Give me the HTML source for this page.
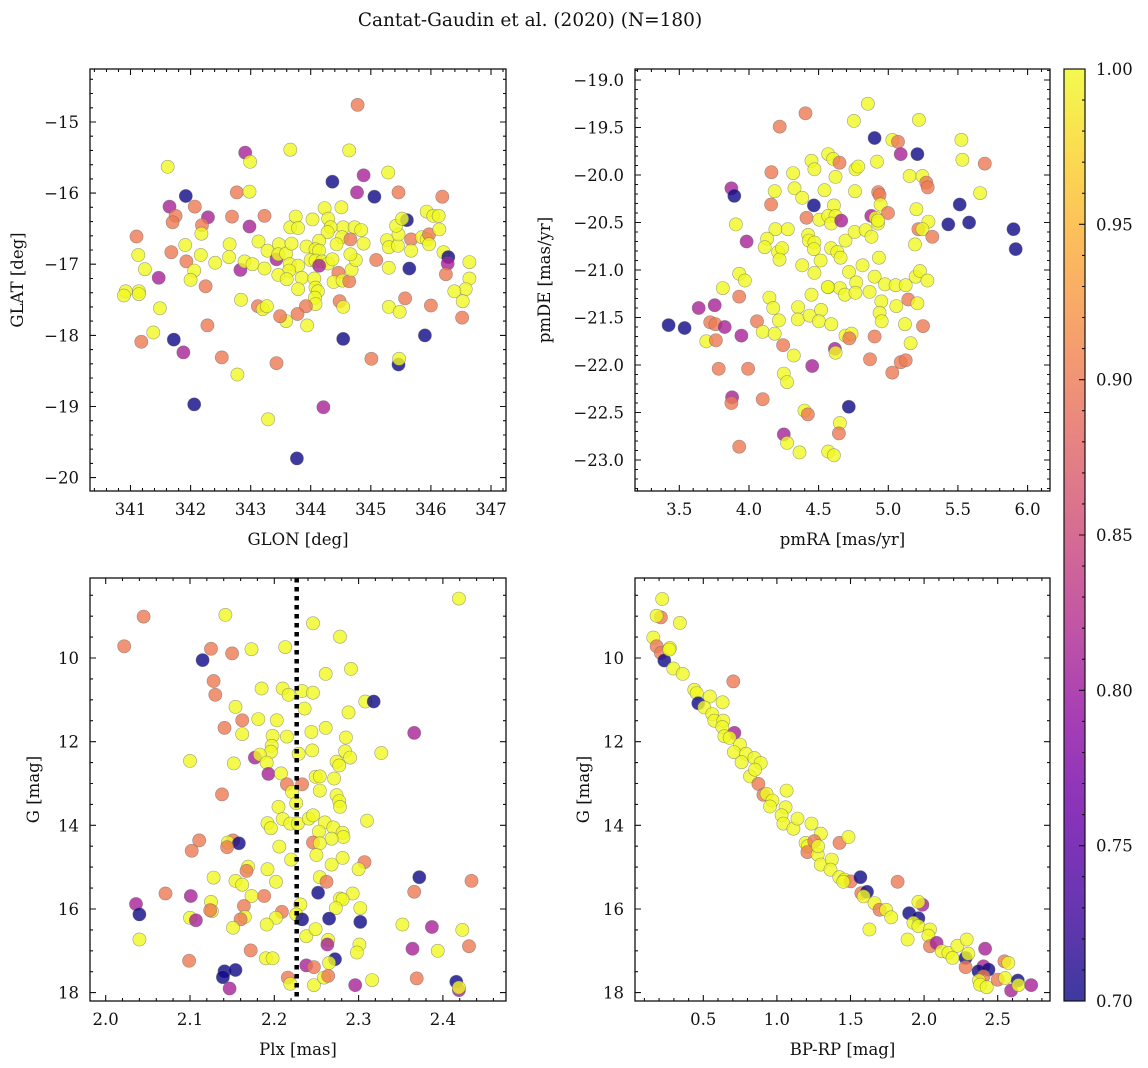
<!DOCTYPE html>
<html><head><meta charset="utf-8"><title>Cantat-Gaudin et al. (2020)</title>
<style>
html,body{margin:0;padding:0;background:#fff;}
svg{display:block;font-family:"DejaVu Serif","Liberation Serif",serif;}
</style></head>
<body>
<svg id="fig" width="1148" height="1068" viewBox="0 0 1148 1068" xmlns="http://www.w3.org/2000/svg">
<text x="530" y="26" font-size="18.5" text-anchor="middle" fill="#111">Cantat-Gaudin et al. (2020) (N=180)</text>
</svg>
<script>
// ---------- data: [x, y, membership probability] ----------
const glonGlat = [
[344.78,-14.76,.9],[343.66,-15.39,1],[344.64,-15.40,1],[342.91,-15.43,.81],[342.99,-15.56,1],[341.62,-15.63,1],[345.29,-15.71,1],[344.88,-15.75,.81],[344.36,-15.84,.7],[341.92,-16.04,.7],
[342.77,-15.99,.9],[342.98,-15.98,1],[344.77,-15.99,.81],[345.06,-16.05,.7],[345.46,-15.99,.9],[346.19,-16.05,.9],[341.65,-16.19,.81],[342.07,-16.19,.9],[341.75,-16.32,.9],[341.70,-16.41,.9],
[342.29,-16.34,.81],[342.19,-16.45,.9],[342.18,-16.57,1],[342.69,-16.33,.9],[343.23,-16.32,.9],[342.98,-16.47,.81],[341.10,-16.61,.9],[341.91,-16.73,1],[342.65,-16.72,1],[343.13,-16.68,1],
[341.13,-16.87,1],[341.68,-16.83,.9],[342.17,-16.87,1],[342.64,-16.90,1],[341.93,-16.96,.9],[342.41,-16.98,1],[341.24,-17.07,1],[341.47,-17.19,.81],[342.06,-17.09,1],[342.00,-17.22,1],
[342.25,-17.31,.9],[340.92,-17.38,1],[340.89,-17.44,1],[341.14,-17.38,1],[341.14,-17.42,1],[341.49,-17.62,1],[341.38,-17.96,1],[341.18,-18.09,.9],[341.72,-18.06,.7],[341.88,-18.24,.81],
[342.28,-17.86,.9],[342.52,-18.31,.9],[342.78,-18.55,1],[343.43,-18.39,.9],[342.06,-18.97,.7],[343.29,-19.18,1],[344.21,-19.01,.81],[343.77,-19.73,.7],[342.84,-17.50,1],[342.83,-17.08,.81],
[342.90,-16.96,1],[343.03,-17.00,1],[343.23,-17.06,1],[343.28,-16.81,1],[343.43,-16.93,.81],[343.47,-16.72,1],[343.46,-16.86,1],[343.59,-16.85,1],[343.68,-16.71,1],[343.66,-16.48,1],
[343.75,-16.33,1],[343.79,-16.49,1],[344.03,-16.37,1],[344.23,-16.21,1],[344.29,-16.36,1],[344.51,-16.20,1],[344.54,-16.48,1],[344.73,-16.48,1],[344.84,-16.52,1],[344.33,-16.48,1],
[344.28,-16.55,1],[344.52,-16.62,1],[344.66,-16.65,.9],[344.43,-16.72,1],[344.88,-16.71,1],[343.93,-16.75,1],[344.14,-16.67,1],[344.08,-16.79,1],[344.14,-16.81,1],[344.00,-16.94,1],
[344.08,-16.95,1],[344.19,-16.96,1],[344.29,-16.99,1],[344.36,-16.93,1],[344.14,-17.02,.81],[343.65,-17.00,1],[343.79,-17.02,1],[343.64,-17.09,1],[343.46,-17.15,1],[343.60,-17.21,1],
[343.85,-17.19,1],[344.06,-17.20,1],[344.08,-17.33,1],[344.12,-17.38,1],[343.79,-17.35,1],[344.07,-17.47,1],[344.08,-17.56,1],[343.92,-17.59,.9],[343.78,-17.70,.9],[343.94,-17.86,1],
[343.59,-17.80,1],[343.49,-17.73,.9],[343.12,-17.59,.9],[343.20,-17.63,1],[343.27,-17.59,1],[344.46,-17.12,.9],[344.38,-17.25,1],[344.53,-17.23,1],[344.64,-17.24,.9],[344.68,-17.08,1],
[344.75,-16.94,1],[344.66,-16.86,1],[344.48,-17.52,.9],[344.54,-17.60,1],[344.54,-18.05,.7],[345.09,-16.94,.9],[345.30,-17.05,1],[345.27,-16.66,1],[345.30,-16.76,1],[345.45,-16.74,1],
[345.46,-16.58,1],[345.42,-16.46,1],[345.60,-16.38,.7],[345.52,-16.36,1],[345.67,-16.65,.9],[345.67,-16.81,1],[345.64,-17.06,.7],[345.57,-17.48,.9],[345.30,-17.60,1],[345.48,-17.67,1],
[345.46,-18.41,.7],[345.47,-18.33,1],[345.01,-18.33,.9],[345.90,-18.00,.7],[346.00,-17.58,.9],[345.85,-16.62,1],[345.93,-16.65,1],[345.97,-16.58,.9],[345.97,-16.72,1],[345.93,-16.26,1],
[346.04,-16.32,1],[346.13,-16.32,1],[346.14,-16.51,1],[346.21,-16.83,1],[346.29,-16.90,.7],[346.28,-16.99,.81],[346.25,-17.14,.9],[346.64,-16.97,1],[346.64,-17.20,1],[346.58,-17.35,1],
[346.39,-17.38,1],[346.53,-17.52,1],[346.52,-17.75,.9]
];
const pmraPmde = [
[4.854,-19.25,1],[4.406,-19.35,.9],[4.753,-19.43,1],[5.220,-19.42,1],[4.221,-19.49,.9],[4.902,-19.61,.7],[5.029,-19.63,1],[5.070,-19.65,.9],[5.209,-19.78,.7],[5.089,-19.78,.81],
[5.525,-19.63,1],[5.532,-19.84,1],[5.693,-19.88,.9],[4.569,-19.78,1],[4.605,-19.83,1],[4.650,-19.87,.9],[4.449,-19.85,1],[4.470,-19.94,1],[4.765,-19.94,1],[4.784,-19.91,1],
[4.919,-19.86,1],[4.317,-19.98,1],[4.161,-19.97,.9],[4.621,-20.02,1],[5.153,-20.01,1],[5.245,-20.01,1],[5.273,-20.08,.9],[5.283,-20.13,.9],[3.874,-20.14,.81],[3.895,-20.22,.7],
[4.185,-20.17,1],[4.327,-20.14,1],[4.382,-20.24,1],[4.542,-20.16,1],[4.761,-20.17,1],[4.928,-20.18,.9],[4.938,-20.21,.9],[4.945,-20.31,1],[5.659,-20.19,1],[4.159,-20.31,.9],
[4.466,-20.32,.7],[4.610,-20.32,1],[5.513,-20.31,.7],[5.431,-20.52,.7],[5.580,-20.50,.7],[5.899,-20.57,.7],[5.915,-20.78,.7],[4.413,-20.45,.9],[4.506,-20.47,1],[4.569,-20.43,1],
[4.621,-20.43,1],[4.590,-20.51,1],[4.662,-20.48,.81],[4.878,-20.43,.81],[4.909,-20.45,1],[4.926,-20.51,1],[4.998,-20.40,.9],[5.202,-20.36,1],[5.288,-20.49,1],[5.216,-20.57,.9],
[5.245,-20.57,1],[5.316,-20.65,.9],[3.906,-20.52,1],[3.983,-20.70,.81],[4.190,-20.57,1],[4.279,-20.57,1],[4.130,-20.67,1],[4.113,-20.76,1],[4.209,-20.81,1],[4.238,-20.77,1],
[4.219,-20.89,1],[4.425,-20.63,1],[4.430,-20.69,1],[4.470,-20.71,1],[4.466,-20.78,1],[4.514,-20.90,1],[4.382,-20.95,1],[4.470,-21.03,1],[4.590,-20.77,1],[4.634,-20.81,1],
[4.658,-20.87,1],[4.693,-20.69,1],[4.758,-20.60,1],[4.837,-20.58,1],[4.880,-20.65,1],[4.926,-20.48,1],[4.933,-20.87,1],[4.815,-20.95,1],[4.718,-21.02,1],[4.770,-21.13,1],
[4.569,-21.18,1],[4.653,-21.19,1],[4.689,-21.26,1],[4.765,-21.24,1],[4.866,-21.23,1],[4.902,-21.07,1],[4.976,-21.15,1],[5.053,-21.16,1],[5.125,-21.16,1],[5.197,-21.07,1],
[5.228,-21.01,1],[5.281,-21.11,1],[5.192,-20.73,1],[5.144,-21.31,.9],[5.209,-21.35,1],[5.058,-21.38,1],[4.950,-21.33,1],[4.938,-21.45,1],[4.953,-21.54,1],[5.120,-21.57,1],
[5.249,-21.59,.9],[5.160,-21.77,1],[4.902,-21.70,.9],[4.869,-21.94,.9],[5.029,-22.08,.9],[5.089,-21.97,.9],[5.125,-21.95,.9],[3.930,-21.04,1],[3.971,-21.11,1],[3.812,-21.19,1],
[3.930,-21.28,.9],[4.147,-21.29,1],[4.174,-21.40,1],[4.215,-21.53,1],[4.058,-21.54,.9],[4.099,-21.65,1],[4.185,-21.67,1],[4.245,-21.79,.9],[4.322,-21.90,1],[4.353,-21.39,1],
[4.351,-21.52,1],[4.435,-21.48,1],[4.518,-21.42,1],[4.502,-21.54,1],[4.591,-21.57,1],[4.449,-21.26,1],[4.566,-21.18,1],[3.639,-21.40,.81],[3.754,-21.37,.81],[3.423,-21.58,.7],
[3.538,-21.61,.7],[3.722,-21.55,.9],[3.759,-21.57,.9],[3.826,-21.60,.81],[3.946,-21.69,.81],[3.694,-21.75,1],[3.763,-21.74,.9],[4.617,-21.83,.81],[4.622,-21.87,1],[4.693,-21.69,1],
[4.736,-21.67,1],[4.720,-21.72,.9],[3.783,-22.04,.9],[3.994,-22.04,.9],[4.454,-22.01,.81],[4.250,-22.09,1],[4.274,-22.18,1],[3.879,-22.34,.81],[3.874,-22.40,.9],[4.099,-22.36,.9],
[4.717,-22.44,.7],[4.399,-22.48,1],[4.423,-22.52,.9],[4.653,-22.61,1],[4.646,-22.72,.9],[4.250,-22.73,.81],[4.274,-22.82,1],[3.930,-22.86,.9],[4.363,-22.92,1],[4.569,-22.91,1],
[4.610,-22.95,1]
];
const plxG = [
[2.419,8.58,1],[2.045,9.01,.9],[2.142,8.97,1],[2.246,9.17,1],[2.278,9.49,1],[2.022,9.72,.9],[2.115,10.05,.7],[2.125,9.78,.9],[2.150,9.89,.9],[2.173,9.79,1],
[2.213,9.74,1],[2.261,10.38,1],[2.291,10.26,1],[2.128,10.55,.9],[2.130,10.88,.9],[2.185,10.73,1],[2.210,10.73,1],[2.217,10.88,1],[2.233,10.79,1],[2.246,10.83,1],
[2.308,11.04,1],[2.318,11.04,.7],[2.154,11.17,1],[2.236,11.21,1],[2.288,11.30,1],[2.162,11.49,.9],[2.141,11.67,.9],[2.181,11.46,1],[2.203,11.49,1],[2.162,11.82,1],
[2.198,11.86,1],[2.215,11.88,1],[2.244,11.77,1],[2.261,11.67,1],[2.285,11.90,1],[2.366,11.79,.81],[2.197,12.10,1],[2.196,12.24,1],[2.177,12.38,.81],[2.183,12.31,1],
[2.229,12.29,1],[2.245,12.21,1],[2.284,12.23,1],[2.290,12.38,1],[2.327,12.27,1],[2.100,12.46,1],[2.152,12.52,1],[2.191,12.50,1],[2.193,12.77,.81],[2.208,12.76,1],
[2.274,12.48,1],[2.277,12.57,1],[2.249,12.84,1],[2.254,12.83,1],[2.271,12.88,1],[2.215,13.02,.9],[2.233,13.02,.9],[2.221,13.20,1],[2.254,13.17,1],[2.274,13.28,1],
[2.277,13.42,1],[2.278,13.56,1],[2.138,13.26,.9],[2.226,13.47,1],[2.205,13.56,1],[2.192,13.95,1],[2.196,14.07,1],[2.210,13.85,1],[2.219,13.96,1],[2.228,13.96,1],
[2.241,13.84,1],[2.246,13.76,1],[2.260,13.93,1],[2.270,14.05,1],[2.281,14.18,1],[2.282,14.28,1],[2.310,13.89,1],[2.253,14.15,1],[2.268,14.32,1],[2.246,14.41,.9],
[2.254,14.43,1],[2.250,14.71,1],[2.206,14.51,1],[2.220,14.82,1],[2.281,14.78,1],[2.268,14.94,1],[2.307,14.88,.9],[2.300,15.05,1],[2.111,14.36,.9],[2.102,14.61,.9],
[2.151,14.36,.9],[2.145,14.41,1],[2.158,14.43,.7],[2.144,14.52,.9],[2.169,14.99,1],[2.167,15.09,.9],[2.192,15.05,1],[2.128,15.25,1],[2.154,15.33,1],[2.162,15.42,1],
[2.202,15.35,1],[2.254,15.24,1],[2.262,15.35,.9],[2.372,15.24,.7],[2.434,15.33,.9],[2.366,15.59,.9],[2.252,15.61,.7],[2.293,15.63,1],[2.071,15.63,.9],[2.101,15.69,.81],
[2.036,15.88,.81],[2.040,16.13,.7],[2.125,15.83,1],[2.126,16.05,1],[2.124,16.03,.9],[2.173,15.69,1],[2.188,15.69,.9],[2.164,15.93,.9],[2.278,15.75,1],[2.281,15.77,1],
[2.273,15.98,1],[2.302,15.98,1],[2.231,15.89,1],[2.209,16.07,.9],[2.226,16.13,1],[2.233,16.25,.7],[2.265,16.23,.7],[2.302,16.31,.7],[2.202,16.21,1],[2.165,16.19,1],
[2.160,16.25,.9],[2.191,16.37,1],[2.151,16.45,1],[2.100,16.21,1],[2.107,16.27,.81],[2.352,16.37,1],[2.387,16.43,.81],[2.423,16.50,1],[2.040,16.73,1],[2.238,16.65,1],
[2.249,16.48,1],[2.264,16.74,1],[2.263,16.85,.81],[2.301,16.85,1],[2.298,17.04,1],[2.364,16.95,.81],[2.394,17.00,1],[2.431,16.89,.9],[2.172,16.99,.9],[2.190,17.18,1],
[2.198,17.18,1],[2.272,17.20,.7],[2.265,17.29,1],[2.099,17.24,.9],[2.238,17.35,.81],[2.247,17.39,.9],[2.141,17.49,.7],[2.154,17.46,.7],[2.139,17.63,.7],[2.147,17.90,.81],
[2.216,17.64,.9],[2.219,17.79,1],[2.247,17.82,1],[2.259,17.64,1],[2.264,17.60,.9],[2.296,17.82,.81],[2.316,17.70,1],[2.369,17.66,.9],[2.416,17.74,.7],[2.419,17.94,.81],
[2.419,17.88,1]
];
const bprpG = [
[0.221,8.59,1],[0.212,9.03,.9],[0.183,8.99,1],[0.341,9.16,1],[0.160,9.51,1],[0.183,9.72,.9],[0.212,9.88,.9],[0.235,10.06,.7],[0.273,9.76,1],[0.269,9.80,1],
[0.296,10.25,1],[0.360,10.38,1],[0.704,10.56,.9],[0.439,10.76,1],[0.455,10.84,1],[0.466,11.08,.7],[0.545,10.92,1],[0.631,11.06,1],[0.507,11.18,1],[0.561,11.34,1],
[0.575,11.50,1],[0.636,11.50,1],[0.711,11.79,.81],[0.629,11.65,1],[0.643,11.87,1],[0.679,11.91,1],[0.749,12.07,1],[0.708,12.25,1],[0.790,12.29,1],[0.847,12.39,1],
[0.890,12.51,1],[0.760,12.49,1],[0.817,12.83,1],[0.874,13.01,.9],[0.851,12.67,1],[0.908,13.27,.9],[0.930,13.25,1],[0.969,13.41,1],[0.953,13.55,1],[1.066,13.17,1],
[1.059,13.57,1],[1.032,13.76,1],[1.044,13.96,1],[1.112,14.08,1],[1.140,13.84,1],[1.235,13.96,1],[1.298,14.20,1],[1.425,14.42,.9],[1.486,14.28,1],[1.195,14.42,1],
[1.210,14.50,1],[1.254,14.38,.9],[1.207,14.64,.9],[1.277,14.70,1],[1.280,14.50,1],[1.298,14.94,1],[1.373,14.82,1],[1.364,15.06,1],[1.424,15.24,1],[1.460,15.30,1],
[1.501,15.34,.9],[1.451,15.35,1],[1.567,15.24,.7],[1.573,15.62,.9],[1.612,15.59,.7],[1.589,15.70,1],[1.663,15.86,1],[1.697,16.02,.9],[1.742,16.02,1],[1.776,16.20,1],
[1.820,15.35,.9],[1.898,16.10,.7],[1.961,16.22,.7],[1.927,16.33,1],[1.961,16.41,1],[1.988,15.90,.81],[1.961,15.83,1],[2.040,16.49,1],[2.029,16.64,1],[2.040,16.89,.9],
[2.085,16.81,.81],[2.120,17.01,1],[2.165,17.05,1],[2.193,17.17,1],[2.226,16.88,1],[2.289,16.73,1],[2.282,17.17,.7],[2.282,17.39,.9],[2.300,17.07,1],[1.628,16.49,1],
[1.888,16.73,1],[2.414,16.95,.81],[2.403,17.37,.81],[2.369,17.49,.7],[2.437,17.45,.7],[2.403,17.61,.9],[2.373,17.71,1],[2.380,17.81,1],[2.425,17.87,1],[2.500,17.69,.9],
[2.545,17.25,.9],[2.572,17.29,1],[2.550,17.65,1],[2.636,17.71,.7],[2.591,17.95,.81],[2.641,17.82,1],[2.727,17.82,.81]
];
// tick values
const p1xTicks = [341,342,343,344,345,346,347];
const p1yTicks = [-15,-16,-17,-18,-19,-20];
const p2xTicks = [3.5,4.0,4.5,5.0,5.5,6.0];
const p2yTicks = [-19.0,-19.5,-20.0,-20.5,-21.0,-21.5,-22.0,-22.5,-23.0];
const p3xTicks = [2.0,2.1,2.2,2.3,2.4];
const gTicks = [10,12,14,16,18];
const p4xTicks = [0.5,1.0,1.5,2.0,2.5];
const cbTicks = [0.70,0.75,0.80,0.85,0.90,0.95,1.00];
const plxMedian = [2.2266];
const cmin = 0.70, cmax = 1.00;

const NS = "http://www.w3.org/2000/svg";
const svg = document.getElementById('fig');
const FS = 16.5;
function mk(tag, attrs, parent){
  const e = document.createElementNS(NS, tag);
  for (const k in attrs) e.setAttribute(k, attrs[k]);
  (parent||svg).appendChild(e);
  return e;
}
const stops = ["#0d0887","#41049d","#6a00a8","#8f0da4","#b12a90","#cc4778","#e16462","#f2844b","#fca636","#fcce25","#f0f921"];
function hex2(h){return [parseInt(h.substr(1,2),16),parseInt(h.substr(3,2),16),parseInt(h.substr(5,2),16)];}
function plasma(v){
  let t = (v-cmin)/(cmax-cmin); t = Math.max(0,Math.min(1,t));
  const s = t*10, i = Math.min(9,Math.floor(s)), f = s-i;
  const a = hex2(stops[i]), b = hex2(stops[i+1]);
  return "rgb("+a.map((x,j)=>Math.round(x+(b[j]-x)*f)).join(",")+")";
}
function fmt(v,d){ const s = v.toFixed(d); return s.replace("-","\u2212"); }

function panel(cfg){
  const {L,R,T,B,xd,yd,yrev,xt,yt,xmin,ymin,xd2,yd2,xlabel,ylabel,ylx,data,name} = cfg;
  const sx = v => L + (v-xd[0])/(xd[1]-xd[0])*(R-L);
  const sy = yrev ? (v => T + (v-yd[0])/(yd[1]-yd[0])*(B-T)) : (v => B - (v-yd[0])/(yd[1]-yd[0])*(B-T));
  const g = mk('g',{});
  
  
  const pg = mk('g',{},g);
  
  
  data.forEach(d=>{
    const c = mk('circle',{cx:sx(d[0]).toFixed(1),cy:sy(d[1]).toFixed(1),r:6.6,fill:plasma(d[2]),'fill-opacity':0.8,stroke:'#666','stroke-opacity':0.6,'stroke-width':0.6},pg);
    
    
  });
  if (cfg.vline){
    cfg.vline.forEach(v=>{
      const l = mk('line',{x1:sx(v),x2:sx(v),y1:T,y2:B,stroke:'#000','stroke-width':4.5,'stroke-dasharray':'4.5,4.5'},g);
      
      
    });
  }
  const fr = mk('rect',{x:L,y:T,width:R-L,height:B-T,fill:'none',stroke:'#111','stroke-width':1.3},g);
  
  
  let p = '';
  for (let v = Math.ceil(xd[0]/xmin)*xmin; v <= xd[1]; v += xmin){
    const x = sx(v).toFixed(1); p += `M${x},${B}v-3M${x},${T}v3`;
  }
  for (let v = Math.ceil(Math.min(yd[0],yd[1])/ymin)*ymin; v <= Math.max(yd[0],yd[1]); v += ymin){
    const y = sy(v).toFixed(1); p += `M${L},${y}h3M${R},${y}h-3`;
  }
  xt.forEach(v=>{ const x = sx(v).toFixed(1); p += `M${x},${B}v-6M${x},${T}v6`; });
  yt.forEach(v=>{ const y = sy(v).toFixed(1); p += `M${L},${y}h6M${R},${y}h-6`; });
  const tk = mk('path',{d:p,stroke:'#111','stroke-width':1.1,fill:'none'},g);
  
  
  xt.forEach(v=>{
    const t = mk('text',{x:sx(v),y:B+24,'font-size':FS,'text-anchor':'middle',fill:'#111'},g);
    t.textContent = fmt(v,xd2);
    
    
  });
  yt.forEach(v=>{
    const t = mk('text',{x:L-11,y:sy(v)+6,'font-size':FS,'text-anchor':'end',fill:'#111'},g);
    t.textContent = fmt(v,yd2);
    
    
  });
  const xl = mk('text',{x:(L+R)/2,y:B+54,'font-size':FS,'text-anchor':'middle',fill:'#111'},g);
  xl.textContent = xlabel;
  
  
  const yc = (T+B)/2;
  const yl = mk('text',{x:ylx,y:yc,'font-size':FS,'text-anchor':'middle',fill:'#111',transform:`rotate(-90 ${ylx} ${yc})`},g);
  yl.textContent = ylabel;
  
  
}

panel({name:'glon-glat',L:90,R:506,T:69,B:491,xd:[340.326,347.25],yd:[-20.188,-14.255],yrev:false,xt:p1xTicks,yt:p1yTicks,xmin:0.2,ymin:0.2,xd2:0,yd2:0,xlabel:'GLON [deg]',ylabel:'GLAT [deg]',ylx:23,data:glonGlat});
panel({name:'proper-motion',L:635,R:1050,T:69,B:491,xd:[3.182,6.161],yd:[-23.326,-18.884],yrev:false,xt:p2xTicks,yt:p2yTicks,xmin:0.1,ymin:0.1,xd2:1,yd2:1,xlabel:'pmRA [mas/yr]',ylabel:'pmDE [mas/yr]',ylx:550,data:pmraPmde});
panel({name:'parallax-mag',L:90,R:506,T:578,B:1001,xd:[1.9814,2.4749],yd:[8.0875,18.2],yrev:true,xt:p3xTicks,yt:gTicks,xmin:0.02,ymin:0.5,xd2:1,yd2:0,xlabel:'Plx [mas]',ylabel:'G [mag]',ylx:39,data:plxG,vline:plxMedian});
panel({name:'cmd',L:635,R:1050,T:578,B:1001,xd:[0.036,2.855],yd:[8.0875,18.2],yrev:true,xt:p4xTicks,yt:gTicks,xmin:0.1,ymin:0.5,xd2:1,yd2:0,xlabel:'BP-RP [mag]',ylabel:'G [mag]',ylx:589,data:bprpG});

(function(){
  const L=1064,R=1085,T=69,B=1001;
  const cy = v => B - (v-cmin)/(cmax-cmin)*(B-T);
  const defs = mk('defs',{});
  const lg = mk('linearGradient',{id:'cbg',x1:0,y1:1,x2:0,y2:0},defs);
  stops.forEach((s,i)=>mk('stop',{offset:i/10,'stop-color':s,'stop-opacity':0.8},lg));
  const r = mk('rect',{x:L,y:T,width:R-L,height:B-T,fill:'url(#cbg)',stroke:'#111','stroke-width':1.2});
  
  
  let p='';
  for (let i=0;i<=30;i++){ const v=cmin+i*0.01; const y=cy(v).toFixed(1); p+=`M${R},${y}h-3`; }
  cbTicks.forEach(v=>{ const y=cy(v).toFixed(1); p+=`M${R},${y}h-6`; });
  const tk = mk('path',{d:p,stroke:'#111','stroke-width':1.1,fill:'none'});
  
  
  cbTicks.forEach(v=>{
    const t = mk('text',{x:1096,y:cy(v)+6,'font-size':FS,fill:'#111'});
    t.textContent = v.toFixed(2);
    
    
  });
})();
</script>
</body></html>
